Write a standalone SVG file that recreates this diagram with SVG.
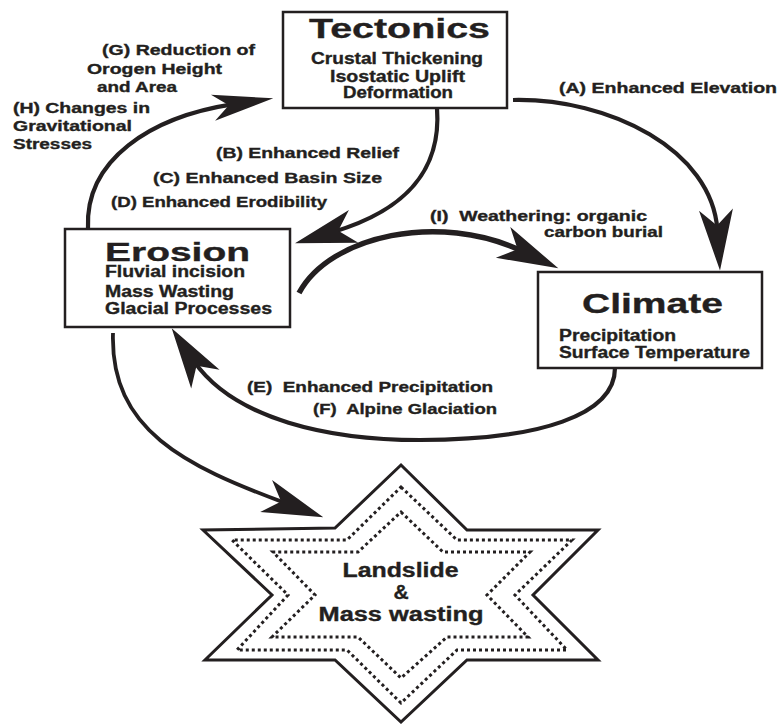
<svg xmlns="http://www.w3.org/2000/svg" xmlns:xlink="http://www.w3.org/1999/xlink" width="778" height="724" viewBox="0 0 778 724">
<style>
.box{fill:#fff;stroke:#231f20;stroke-width:2.5}
.t{font-family:"Liberation Sans",Arial,sans-serif;font-weight:bold;fill:#231f20;stroke:#231f20;stroke-width:0.35}
.title{font-size:28px}
.sub{font-size:16px}
.lbl{font-size:14.5px}
.star{font-size:19.5px}
.con{fill:none;stroke:#231f20;stroke-width:4.2;stroke-linecap:butt}
.head{fill:#231f20}
.outline{fill:#fff;stroke:#231f20;stroke-width:3;stroke-linejoin:miter}
.dots{fill:none;stroke:#231f20;stroke-width:3;stroke-dasharray:3 3}
</style>
<defs>
<path id="ah" d="M0,0 L-61,-17 L-45,0 L-61,17 Z"/>
</defs>
<rect width="778" height="724" fill="#fff"/>

<g id="connectors">
<path class="con" d="M513,100 C610,98 712,150 717.4,230"/>
<use href="#ah" class="head" transform="translate(720,270.5) rotate(86.2)"/>
<path class="con" d="M437,108 C442,175 400,212 333.4,231.9"/>
<use href="#ah" class="head" transform="translate(295,243.3) rotate(163.9)"/>
<path class="con" style="stroke-width:5.5" d="M299,293 C330,235 440,212 521.8,251"/>
<use href="#ah" class="head" transform="translate(558.3,268.3) rotate(25.1)"/>
<path class="con" d="M615,368 C615,415 540,440 420,440 C330,440 235,420 194,361.4"/>
<use href="#ah" class="head" transform="translate(171.7,328.3) rotate(-123.5)"/>
<path class="con" d="M88,228 C85,160 150,117 233.5,104.2"/>
<use href="#ah" class="head" transform="translate(273.3,98.3) rotate(-8.9) scale(1,0.78)"/>
<path class="con" style="stroke-width:3.8" d="M113,333 C110,430 185,466 285.5,503.1"/>
<use href="#ah" class="head" transform="translate(323.3,517.3) rotate(20.4)"/>
</g>

<g id="tectonics">
<rect class="box" x="283" y="12" width="224" height="96"/>
<text class="t title" x="309" y="38" textLength="181" lengthAdjust="spacingAndGlyphs">Tectonics</text>
<text class="t sub" x="311" y="64" textLength="172" lengthAdjust="spacingAndGlyphs">Crustal Thickening</text>
<text class="t sub" x="330" y="81.5" textLength="135" lengthAdjust="spacingAndGlyphs">Isostatic Uplift</text>
<text class="t sub" x="343" y="98.3" textLength="110" lengthAdjust="spacingAndGlyphs">Deformation</text>
</g>

<g id="erosion">
<rect class="box" x="65" y="229" width="225" height="98"/>
<text class="t title" style="font-size:26.5px" x="105" y="260.5" textLength="145" lengthAdjust="spacingAndGlyphs">Erosion</text>
<text class="t sub" x="105" y="277" textLength="140" lengthAdjust="spacingAndGlyphs">Fluvial incision</text>
<text class="t sub" x="105" y="296.7" textLength="129" lengthAdjust="spacingAndGlyphs">Mass Wasting</text>
<text class="t sub" x="105" y="314" textLength="167" lengthAdjust="spacingAndGlyphs">Glacial Processes</text>
</g>

<g id="climate">
<rect class="box" x="538" y="272" width="224" height="96"/>
<text class="t title" x="582" y="313" textLength="141" lengthAdjust="spacingAndGlyphs">Climate</text>
<text class="t sub" x="559" y="341" textLength="117" lengthAdjust="spacingAndGlyphs">Precipitation</text>
<text class="t sub" x="559" y="358.3" textLength="191" lengthAdjust="spacingAndGlyphs">Surface Temperature</text>
</g>

<g id="labels">
<text class="t lbl" x="102" y="54.5" textLength="153" lengthAdjust="spacingAndGlyphs">(G) Reduction of</text>
<text class="t lbl" x="87" y="73.5" textLength="135" lengthAdjust="spacingAndGlyphs">Orogen Height</text>
<text class="t lbl" x="97" y="91.5" textLength="80" lengthAdjust="spacingAndGlyphs">and Area</text>
<text class="t lbl" x="13" y="112.5" textLength="137" lengthAdjust="spacingAndGlyphs">(H) Changes in</text>
<text class="t lbl" x="13" y="130.5" textLength="119" lengthAdjust="spacingAndGlyphs">Gravitational</text>
<text class="t lbl" x="13" y="148.5" textLength="79" lengthAdjust="spacingAndGlyphs">Stresses</text>
<text class="t lbl" x="216" y="157.5" textLength="183" lengthAdjust="spacingAndGlyphs">(B) Enhanced Relief</text>
<text class="t lbl" x="153" y="182.5" textLength="229" lengthAdjust="spacingAndGlyphs">(C) Enhanced Basin Size</text>
<text class="t lbl" x="111" y="206.5" textLength="216" lengthAdjust="spacingAndGlyphs">(D) Enhanced Erodibility</text>
<text class="t lbl" x="559" y="93.3" textLength="218" lengthAdjust="spacingAndGlyphs">(A) Enhanced Elevation</text>
<text class="t lbl" x="430" y="220.5" textLength="217" lengthAdjust="spacingAndGlyphs" xml:space="preserve">(I)  Weathering: organic</text>
<text class="t lbl" x="544" y="236.7" textLength="119" lengthAdjust="spacingAndGlyphs">carbon burial</text>
<text class="t lbl" x="247" y="392.3" textLength="246" lengthAdjust="spacingAndGlyphs" xml:space="preserve">(E)  Enhanced Precipitation</text>
<text class="t lbl" x="313" y="414.3" textLength="184" lengthAdjust="spacingAndGlyphs" xml:space="preserve">(F)  Alpine Glaciation</text>
</g>

<g id="landslide">
<polygon class="outline" points="401,465 467,530 598,530 533,595 598,660 467,660 401,722 335,660 205,660 272,595 203,530 335,528"/>
<polygon class="dots" points="401,487 457,540 572,540 515,595 567,650 457,650 401,703 347,650 237,650 288,595 232,540 347,540"/>
<polygon class="dots" points="401,512 443,552 530,552 487,595 528,637 447,637 401,678 358,637 272,637 315,595 273,552 358,552"/>
<text class="t star" x="342.5" y="577.3" textLength="116" lengthAdjust="spacingAndGlyphs">Landslide</text>
<text class="t star" style="font-size:21px" x="401" y="599.3" text-anchor="middle">&amp;</text>
<text class="t star" x="318.5" y="621" textLength="165" lengthAdjust="spacingAndGlyphs">Mass wasting</text>
</g>
</svg>
